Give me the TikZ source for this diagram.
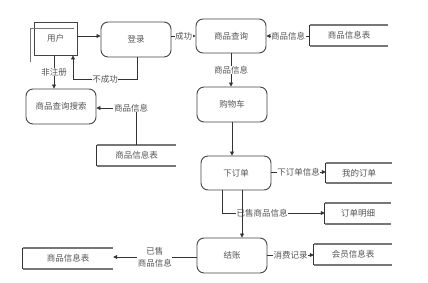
\documentclass[tikz,border=0pt]{standalone}
\usepackage{fontspec}
\setmainfont{Noto Sans CJK SC}
\usetikzlibrary{arrows.meta}
\definecolor{linec}{HTML}{333333}
\definecolor{boxc}{HTML}{444444}
\definecolor{storec}{HTML}{777777}
\definecolor{txtc}{HTML}{555555}
\tikzset{
  proc/.style={draw=boxc, line width=0.9bp, rounded corners=7bp, minimum width=70bp, minimum height=35bp, inner sep=0pt, text=txtc, font=\fontsize{8.5bp}{10bp}\selectfont},
  ent/.style={draw=boxc, line width=0.9bp, minimum width=43bp, minimum height=33bp, inner sep=0pt, text=txtc, font=\fontsize{8.5bp}{10bp}\selectfont},
  store/.style={inner sep=0pt, text=txtc, font=\fontsize{8.5bp}{10bp}\selectfont},
  storeline/.style={draw=storec, line width=1.6bp},
  storeside/.style={draw=linec, line width=0.8bp},
  conn/.style={draw=linec, line width=0.8bp},
  arr/.style={conn, -{Triangle[length=4bp,width=4bp]}},
  lab/.style={fill=white, inner sep=0.5bp, text=txtc, font=\fontsize{8.5bp}{10bp}\selectfont, align=center},
}
\begin{document}
\begin{tikzpicture}[x=1bp,y=-1bp]
\useasboundingbox (0,0) rectangle (428,283);
% processes and entity
\node[ent] (yh) at (55.5,38.5) {用户};
\node[proc] (login) at (136,39.5) {登录};
\node[proc, minimum height=34bp] (query) at (231,36) {商品查询};
\node[proc] (search) at (61,106.5) {商品查询搜索};
\node[proc] (cart) at (232,104.5) {购物车};
\node[proc, minimum height=34bp] (order) at (236,173) {下订单};
\node[proc] (pay) at (232,255.5) {结账};
% entity shadow L
\draw[storeline, line width=1.4bp] ([xshift=-3bp,yshift=-7bp]yh.south west) -- ([xshift=-3bp,yshift=-7bp]yh.north west) -- ([xshift=-3bp,yshift=-7bp]yh.north east);
% stores
\node[store, minimum width=78bp, minimum height=21bp] (s1) at (349,35.5) {商品信息表};
\node[store, minimum width=79bp, minimum height=21bp] (s2) at (136.5,155.5) {商品信息表};
\node[store, minimum width=66bp, minimum height=20bp] (s3) at (359,173) {我的订单};
\node[store, minimum width=66bp, minimum height=21bp] (s4) at (358,213.5) {订单明细};
\node[store, minimum width=78bp, minimum height=21bp] (s5) at (353,254.5) {会员信息表};
\node[store, minimum width=90bp, minimum height=21bp] (s6) at (68,258.5) {商品信息表};
\foreach \s in {s1,s2,s3,s4,s5,s6}{
  \draw[storeline] (\s.north west) -- (\s.north east);
  \draw[storeline] (\s.south west) -- (\s.south east);
  \draw[storeside] (\s.north west) -- (\s.south west);
}
% connectors
\draw[arr] (yh.east |- 0,36) -- (login.west |- 0,36);
\draw[arr] (login.east |- 0,36) -- node[lab]{成功} (query.west |- 0,36);
\draw[arr] (s1.west |- 0,36) -- node[lab, pos=0.5]{商品信息} (query.east |- 0,36);
\draw[arr] (yh.south -| 54,0) -- node[lab]{非注册} (search.north -| 54,0);
\coordinate (nc1) at (137,79);
\coordinate (nc2) at (73,79);
\draw[conn] (login.south -| 137,0) -- (nc1) -- node[lab]{不成功} (nc2);
\draw[arr] (nc2) -- (yh.south -| 73,0);
\coordinate (sp1) at (136,108);
\draw[arr] (s2.north -| 136,0) -- (sp1) -- (search.east |- 0,108);
\node[lab] (l1) at (131,108) {商品信息};
\draw[arr] (query.south -| 231,0) -- node[lab]{商品信息} (cart.north -| 231,0);
\draw[arr] (cart.south -| 232,0) -- (order.north -| 232,0);
\draw[arr] (order.east |- 0,172) -- node[lab, pos=0.5]{下订单信息} (s3.west |- 0,172);
\coordinate (od1) at (222,213);
\draw[conn] (order.south -| 222,0) -- (od1);
\draw[arr] (od1) -- node[lab, pos=0.39]{已售商品信息} (s4.west |- 0,213);
\draw[arr] (order.south -| 242,0) -- (pay.north -| 242,0);
\draw[arr] (pay.east |- 0,255) -- node[lab]{消费记录} (s5.west |- 0,255);
\draw[arr] (pay.west |- 0,257) -- node[lab, pos=0.5, font=\fontsize{8.5bp}{12bp}\selectfont]{已售\\商品信息} (s6.east |- 0,257);
\end{tikzpicture}
\end{document}
